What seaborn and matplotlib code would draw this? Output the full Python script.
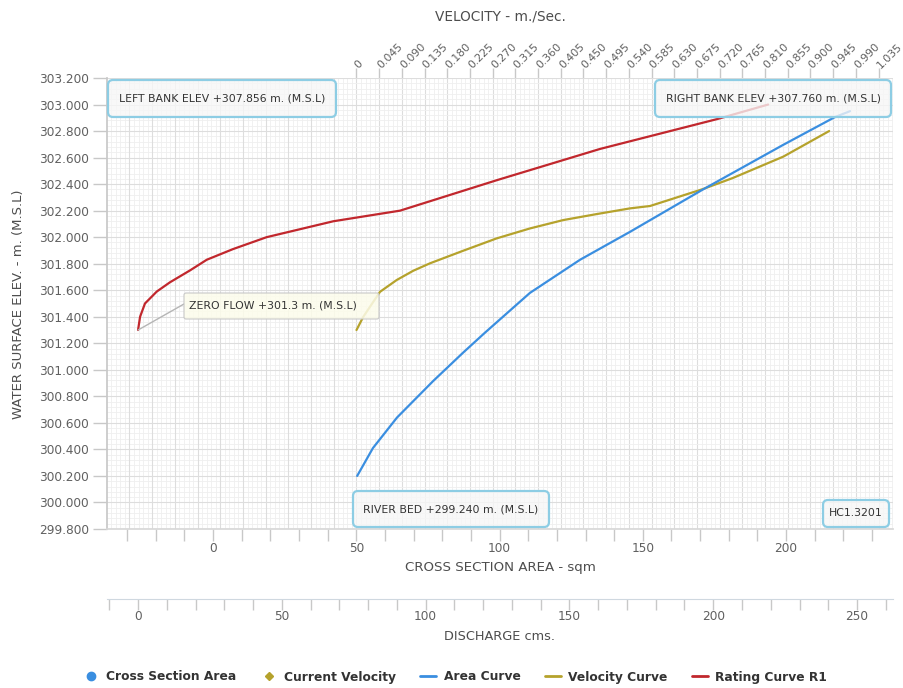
import numpy as np
import matplotlib
matplotlib.use("Agg")
import matplotlib.pyplot as plt
import seaborn as sns
from matplotlib.lines import Line2D
from matplotlib.patches import FancyBboxPatch
from matplotlib.ticker import FixedLocator, MultipleLocator, FuncFormatter

# ---------------- data ----------------
# Rating curve R1: discharge (cms) against water surface elevation (m, M.S.L)
rating_discharge = [0, 0.7, 2.4, 6.5, 11.1, 18.1, 23.9, 33.0, 44.7, 67.9, 91.1,
                    124.8, 160.6, 201.3, 219.1]
rating_elev = [301.30, 301.40, 301.50, 301.59, 301.66, 301.75, 301.83, 301.91,
               302.00, 302.12, 302.20, 302.43, 302.665, 302.89, 303.00]

# Area curve: cross section area (sqm) against elevation
area_sqm = [50.3, 55.8, 64.2, 76.8, 87.3, 94.9, 110.6, 128.1, 145.5, 171.0,
            198.9, 217.0, 222.3]
area_elev = [300.20, 300.41, 300.64, 300.915, 301.13, 301.28, 301.58, 301.83,
             302.04, 302.36, 302.695, 302.905, 302.95]

# Velocity curve: mean velocity (m/s) against elevation
velocity = [0, 0.0135, 0.0466, 0.0797, 0.1126, 0.1457, 0.2117, 0.278, 0.344,
            0.41, 0.476, 0.542, 0.582, 0.687, 0.746, 0.846, 0.937]
velocity_elev = [301.30, 301.40, 301.588, 301.677, 301.747, 301.803, 301.898,
                 301.991, 302.066, 302.129, 302.174, 302.217, 302.235, 302.363,
                 302.446, 302.607, 302.80]

elev_ticks = [299.8, 300.0, 300.2, 300.4, 300.6, 300.8, 301.0, 301.2, 301.4,
              301.6, 301.8, 302.0, 302.2, 302.4, 302.6, 302.8, 303.0, 303.2]
velocity_step = 0.045
velocity_ticks = [round(k * velocity_step, 3) for k in range(0, 24)]
area_label_ticks = [0, 50, 100, 150, 200]
discharge_label_ticks = [0, 50, 100, 150, 200, 250]

zero_flow_q, zero_flow_h = 0, 301.3

legend_labels = ["Cross Section Area", "Current Velocity", "Area Curve",
                 "Velocity Curve", "Rating Curve R1"]

# ---------------- style ----------------
BLUE = "#3a8ee0"
OLIVE = "#b5a22c"
RED = "#c1272d"
BOX_EDGE = "#8dcde4"
TICK_C = "#c8c8c8"
LABEL_C = "#606060"
TITLE_C = "#4d4d4d"
GRID_MAJOR = "#dddddd"
GRID_MINOR = "#efefef"

sns.set_theme(style="white")
plt.rcParams["font.family"] = ["DejaVu Sans"]

W, H = 904, 688
fig = plt.figure(figsize=(W / 100, H / 100), dpi=100)
fig.patch.set_facecolor("white")
PX = 72 / 100  # points per pixel


def fx(px):
    return px / W


def fy(py):
    return 1 - py / H


L, R, T, B = 107, 893, 78, 529
rect = [fx(L), fy(B), fx(R) - fx(L), fy(T) - fy(B)]

# base axes: velocity on top, elevation on the left, carries the grid
ax = fig.add_axes(rect)
ax_a = ax.twiny()   # cross section area scale (bottom)
ax_q = ax.twiny()   # discharge scale used by the rating curve

ax.set_facecolor("white")
ax.set_xlim(-0.4946, 1.0636)
ax.set_ylim(299.8, 303.2)
ax.xaxis.tick_top()

ax.xaxis.set_major_locator(FixedLocator(velocity_ticks))
ax.xaxis.set_major_formatter(FuncFormatter(
    lambda v, p: "0" if abs(v) < 1e-9 else f"{v:.3f}"))
ax.xaxis.set_minor_locator(MultipleLocator(velocity_step / 5))
ax.set_yticks(elev_ticks)
ax.yaxis.set_major_formatter(FuncFormatter(lambda v, p: f"{v:.3f}"))
ax.yaxis.set_minor_locator(MultipleLocator(0.04))

ax.grid(which="major", color=GRID_MAJOR, lw=0.8)
ax.grid(which="minor", color=GRID_MINOR, lw=0.6)
ax.set_axisbelow(True)
# major vertical grid continues left of the velocity origin
for k in range(1, 11):
    ax.axvline(-k * velocity_step, color=GRID_MAJOR, lw=0.8, zorder=0.6)

ax.tick_params(axis="y", which="major", left=True, length=14 * PX,
               color=TICK_C, width=1, labelsize=8.7, labelcolor=LABEL_C,
               pad=4 * PX)
ax.tick_params(axis="x", which="major", top=True, bottom=False,
               labeltop=True, labelbottom=False, length=10 * PX,
               color=TICK_C, width=1, labelsize=7.8, labelcolor=LABEL_C,
               pad=1, labelrotation=45)
ax.tick_params(which="minor", length=0)
for lab in ax.get_xticklabels():
    lab.set_ha("left")
    lab.set_va("center")
    lab.set_rotation_mode("anchor")

for side in ("top", "right", "bottom"):
    ax.spines[side].set_visible(False)
ax.spines["left"].set_color(TICK_C)

sns.lineplot(x=velocity, y=velocity_elev, ax=ax, color=OLIVE, lw=1.6,
             sort=False, estimator=None, legend=False)

# cross section area axis at the bottom
ax_a.set_xlim(-37.0, 237.3)
ax_a.xaxis.tick_bottom()
ax_a.xaxis.set_major_locator(FixedLocator(area_label_ticks))
ax_a.xaxis.set_minor_locator(MultipleLocator(10))
ax_a.tick_params(axis="x", which="both", top=False, bottom=True,
                 length=12 * PX, color=TICK_C, width=1)
ax_a.tick_params(axis="x", which="major", labelsize=8.7, labelcolor=LABEL_C,
                 pad=1, labelbottom=True, labeltop=False)
for side in ("top", "right", "left"):
    ax_a.spines[side].set_visible(False)
ax_a.spines["bottom"].set_color("#d8d8d8")
sns.lineplot(x=area_sqm, y=area_elev, ax=ax_a, color=BLUE, lw=1.6,
             sort=False, estimator=None, legend=False)

# rating curve on the discharge scale
ax_q.set_xlim(-10.8, 262.5)
ax_q.xaxis.set_visible(False)
for side in ax_q.spines.values():
    side.set_visible(False)
sns.lineplot(x=rating_discharge, y=rating_elev, ax=ax_q, color=RED, lw=1.6,
             sort=False, estimator=None, legend=False)

# separate discharge axis below
ax_d = fig.add_axes([fx(L), fy(599), fx(R) - fx(L), 0.0005])
ax_d.set_xlim(-10.8, 262.5)
ax_d.set_ylim(0, 1)
ax_d.patch.set_visible(False)
ax_d.set_yticks([])
ax_d.xaxis.set_major_locator(FixedLocator(discharge_label_ticks))
ax_d.xaxis.set_minor_locator(MultipleLocator(10))
ax_d.tick_params(axis="x", which="both", bottom=True, length=11 * PX,
                 color=TICK_C, width=1)
ax_d.tick_params(axis="x", which="major", labelsize=8.7, labelcolor=LABEL_C,
                 pad=0)
for side in ("top", "right", "left"):
    ax_d.spines[side].set_visible(False)
ax_d.spines["bottom"].set_color("#cfd8e0")
ax_d.spines["bottom"].set_linewidth(0.8)

# axis titles
fig.text(fx(500), fy(17), "VELOCITY - m./Sec.", ha="center", va="center",
         fontsize=9.8, color=TITLE_C)
fig.text(fx(500), fy(568), "CROSS SECTION AREA - sqm", ha="center",
         va="center", fontsize=9.6, color=TITLE_C)
fig.text(fx(500), fy(636), "DISCHARGE cms.", ha="center", va="center",
         fontsize=9.3, color=TITLE_C)
fig.text(fx(19), fy(304), "WATER SURFACE ELEV. - m. (M.S.L)", ha="center",
         va="center", rotation=90, fontsize=9.5, color=TITLE_C)

# annotation boxes, placed in pixel units via inches
inch = fig.dpi_scale_trans


def label_box(x0, y0, x1, y1, text, fc, ec, lw, rounding, ha="center",
              tx=None):
    patch = FancyBboxPatch((x0 / 100, (H - y1) / 100), (x1 - x0) / 100,
                           (y1 - y0) / 100,
                           boxstyle=f"round,pad=0,rounding_size={rounding}",
                           transform=inch, fc=fc, ec=ec, lw=lw, zorder=5)
    fig.patches.append(patch)
    if tx is None:
        tx = (x0 + x1) / 2
    fig.text(tx / 100, (H - (y0 + y1) / 2) / 100, text, transform=inch,
             ha=ha, va="center", fontsize=7.8, color="#333333", zorder=6)


blue_fill = (0.97, 0.97, 0.97, 0.78)
label_box(108, 80, 336, 117, "LEFT BANK ELEV +307.856 m. (M.S.L)",
          blue_fill, BOX_EDGE, 1.6, 0.05)
label_box(655, 80, 891, 117, "RIGHT BANK ELEV +307.760 m. (M.S.L)",
          blue_fill, BOX_EDGE, 1.6, 0.05)
label_box(353, 491, 549, 527, "RIVER BED +299.240 m. (M.S.L)",
          blue_fill, BOX_EDGE, 1.6, 0.05)
label_box(823, 500, 889, 527, "HC1.3201", blue_fill, BOX_EDGE, 1.6, 0.05)

# zero flow callout linked to the start of the rating curve
ax_q.annotate("", xy=(zero_flow_q, zero_flow_h), xycoords="data",
              xytext=(184 / 100, (H - 304) / 100), textcoords=inch,
              arrowprops=dict(arrowstyle="-", color="#b5b5b5", lw=1,
                              shrinkA=0, shrinkB=0), zorder=4)
label_box(184, 293, 379, 319, "ZERO FLOW +301.3 m. (M.S.L)",
          (0.99, 0.99, 0.92, 0.85), "#c8c8c8", 0.8, 0.02, ha="left", tx=189)

# legend
handles = [
    Line2D([], [], marker="o", ls="none", color=BLUE, markersize=6),
    Line2D([], [], marker="D", ls="none", color=OLIVE, markersize=4.5),
    Line2D([], [], color=BLUE, lw=2),
    Line2D([], [], color=OLIVE, lw=2),
    Line2D([], [], color=RED, lw=2),
]
leg = fig.legend(handles, legend_labels, loc="center",
                 bbox_to_anchor=(fx(455), fy(677)), ncol=5, frameon=False,
                 prop={"weight": "bold", "size": 8.8}, handlelength=1.3,
                 handletextpad=0.6, columnspacing=2.0)
for t in leg.get_texts():
    t.set_color("#333333")

fig.savefig("out.png", dpi=100, facecolor="white")
